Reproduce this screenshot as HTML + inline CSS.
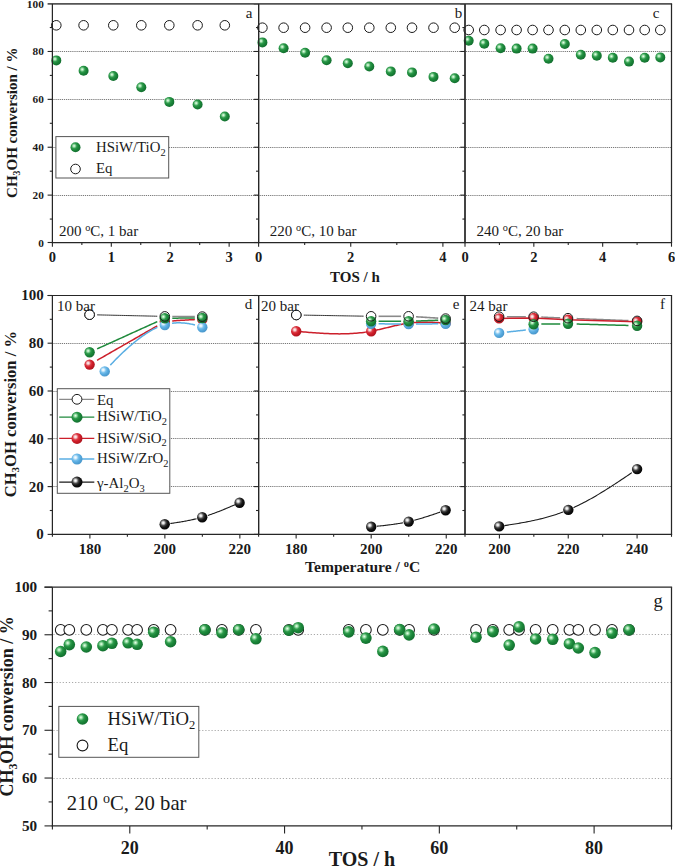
<!DOCTYPE html>
<html><head><meta charset="utf-8"><style>
html,body{margin:0;padding:0;background:#fff;}
svg{display:block;}
text{font-family:"Liberation Serif", serif;fill:#1a1a1a;}
</style></head><body>
<svg width="675" height="866" viewBox="0 0 675 866">
<defs>
<radialGradient id="gG" cx="0.36" cy="0.36" r="0.64">
<stop offset="0" stop-color="#f0fdf1"/><stop offset="0.16" stop-color="#a8e6b3"/><stop offset="0.42" stop-color="#2f9b4d"/>
<stop offset="0.66" stop-color="#1b8739"/><stop offset="1" stop-color="#147131"/></radialGradient>
<radialGradient id="gR" cx="0.36" cy="0.36" r="0.64">
<stop offset="0" stop-color="#fff4f4"/><stop offset="0.16" stop-color="#f6d0d2"/><stop offset="0.42" stop-color="#dc3a44"/>
<stop offset="0.66" stop-color="#cf1c28"/><stop offset="1" stop-color="#b01620"/></radialGradient>
<radialGradient id="gB" cx="0.36" cy="0.36" r="0.64">
<stop offset="0" stop-color="#f8fcff"/><stop offset="0.16" stop-color="#dff1fc"/><stop offset="0.42" stop-color="#78c0ec"/>
<stop offset="0.66" stop-color="#58abe0"/><stop offset="1" stop-color="#4a98cc"/></radialGradient>
<radialGradient id="gK" cx="0.36" cy="0.36" r="0.64">
<stop offset="0" stop-color="#ffffff"/><stop offset="0.16" stop-color="#e0e0e0"/><stop offset="0.42" stop-color="#4a4a4a"/>
<stop offset="0.66" stop-color="#161616"/><stop offset="1" stop-color="#050505"/></radialGradient>
</defs>
<rect width="675" height="866" fill="#fff"/>
<line x1="53.4" y1="195.5" x2="258.6" y2="195.5" stroke="#787878" stroke-width="1" stroke-dasharray="1.2 0.9"/>
<line x1="53.4" y1="147.5" x2="258.6" y2="147.5" stroke="#787878" stroke-width="1" stroke-dasharray="1.2 0.9"/>
<line x1="53.4" y1="99.5" x2="258.6" y2="99.5" stroke="#787878" stroke-width="1" stroke-dasharray="1.2 0.9"/>
<line x1="53.4" y1="51.5" x2="258.6" y2="51.5" stroke="#787878" stroke-width="1" stroke-dasharray="1.2 0.9"/>
<line x1="259.6" y1="195.5" x2="465" y2="195.5" stroke="#787878" stroke-width="1" stroke-dasharray="1.2 0.9"/>
<line x1="259.6" y1="147.5" x2="465" y2="147.5" stroke="#787878" stroke-width="1" stroke-dasharray="1.2 0.9"/>
<line x1="259.6" y1="99.5" x2="465" y2="99.5" stroke="#787878" stroke-width="1" stroke-dasharray="1.2 0.9"/>
<line x1="259.6" y1="51.5" x2="465" y2="51.5" stroke="#787878" stroke-width="1" stroke-dasharray="1.2 0.9"/>
<line x1="466" y1="195.5" x2="671.5" y2="195.5" stroke="#787878" stroke-width="1" stroke-dasharray="1.2 0.9"/>
<line x1="466" y1="147.5" x2="671.5" y2="147.5" stroke="#787878" stroke-width="1" stroke-dasharray="1.2 0.9"/>
<line x1="466" y1="99.5" x2="671.5" y2="99.5" stroke="#787878" stroke-width="1" stroke-dasharray="1.2 0.9"/>
<line x1="466" y1="51.5" x2="671.5" y2="51.5" stroke="#787878" stroke-width="1" stroke-dasharray="1.2 0.9"/>
<line x1="53.4" y1="486.5" x2="258.6" y2="486.5" stroke="#787878" stroke-width="1" stroke-dasharray="1.2 0.9"/>
<line x1="53.4" y1="438.5" x2="258.6" y2="438.5" stroke="#787878" stroke-width="1" stroke-dasharray="1.2 0.9"/>
<line x1="53.4" y1="391.5" x2="258.6" y2="391.5" stroke="#787878" stroke-width="1" stroke-dasharray="1.2 0.9"/>
<line x1="53.4" y1="343.5" x2="258.6" y2="343.5" stroke="#787878" stroke-width="1" stroke-dasharray="1.2 0.9"/>
<line x1="259.6" y1="486.5" x2="465" y2="486.5" stroke="#787878" stroke-width="1" stroke-dasharray="1.2 0.9"/>
<line x1="259.6" y1="438.5" x2="465" y2="438.5" stroke="#787878" stroke-width="1" stroke-dasharray="1.2 0.9"/>
<line x1="259.6" y1="391.5" x2="465" y2="391.5" stroke="#787878" stroke-width="1" stroke-dasharray="1.2 0.9"/>
<line x1="259.6" y1="343.5" x2="465" y2="343.5" stroke="#787878" stroke-width="1" stroke-dasharray="1.2 0.9"/>
<line x1="466" y1="486.5" x2="671.5" y2="486.5" stroke="#787878" stroke-width="1" stroke-dasharray="1.2 0.9"/>
<line x1="466" y1="438.5" x2="671.5" y2="438.5" stroke="#787878" stroke-width="1" stroke-dasharray="1.2 0.9"/>
<line x1="466" y1="391.5" x2="671.5" y2="391.5" stroke="#787878" stroke-width="1" stroke-dasharray="1.2 0.9"/>
<line x1="466" y1="343.5" x2="671.5" y2="343.5" stroke="#787878" stroke-width="1" stroke-dasharray="1.2 0.9"/>
<line x1="53.4" y1="778.5" x2="671.5" y2="778.5" stroke="#a8a8a8" stroke-width="1" stroke-dasharray="1.2 1.9"/>
<line x1="53.4" y1="730.5" x2="671.5" y2="730.5" stroke="#a8a8a8" stroke-width="1" stroke-dasharray="1.2 1.9"/>
<line x1="53.4" y1="682.5" x2="671.5" y2="682.5" stroke="#a8a8a8" stroke-width="1" stroke-dasharray="1.2 1.9"/>
<line x1="53.4" y1="634.5" x2="671.5" y2="634.5" stroke="#a8a8a8" stroke-width="1" stroke-dasharray="1.2 1.9"/>
<circle cx="56.3" cy="25.3" r="4.8" fill="none" stroke="#1a1a1a" stroke-width="1.0"/>
<circle cx="83.6" cy="25.3" r="4.8" fill="none" stroke="#1a1a1a" stroke-width="1.0"/>
<circle cx="113.3" cy="25.3" r="4.8" fill="none" stroke="#1a1a1a" stroke-width="1.0"/>
<circle cx="141.3" cy="25.3" r="4.8" fill="none" stroke="#1a1a1a" stroke-width="1.0"/>
<circle cx="169.3" cy="25.3" r="4.8" fill="none" stroke="#1a1a1a" stroke-width="1.0"/>
<circle cx="197.6" cy="25.3" r="4.8" fill="none" stroke="#1a1a1a" stroke-width="1.0"/>
<circle cx="224.8" cy="25.3" r="4.8" fill="none" stroke="#1a1a1a" stroke-width="1.0"/>
<circle cx="56.3" cy="60.4" r="5.0" fill="url(#gG)"/>
<circle cx="83.6" cy="70.8" r="5.0" fill="url(#gG)"/>
<circle cx="113.3" cy="76" r="5.0" fill="url(#gG)"/>
<circle cx="141.3" cy="87.2" r="5.0" fill="url(#gG)"/>
<circle cx="169.3" cy="101.9" r="5.0" fill="url(#gG)"/>
<circle cx="197.6" cy="104.5" r="5.0" fill="url(#gG)"/>
<circle cx="224.8" cy="116.5" r="5.0" fill="url(#gG)"/>
<circle cx="262.4" cy="27.7" r="4.8" fill="none" stroke="#1a1a1a" stroke-width="1.0"/>
<circle cx="283.6" cy="27.7" r="4.8" fill="none" stroke="#1a1a1a" stroke-width="1.0"/>
<circle cx="305.1" cy="27.7" r="4.8" fill="none" stroke="#1a1a1a" stroke-width="1.0"/>
<circle cx="326.6" cy="27.7" r="4.8" fill="none" stroke="#1a1a1a" stroke-width="1.0"/>
<circle cx="347.8" cy="27.7" r="4.8" fill="none" stroke="#1a1a1a" stroke-width="1.0"/>
<circle cx="369.3" cy="27.7" r="4.8" fill="none" stroke="#1a1a1a" stroke-width="1.0"/>
<circle cx="390.8" cy="27.7" r="4.8" fill="none" stroke="#1a1a1a" stroke-width="1.0"/>
<circle cx="412" cy="27.7" r="4.8" fill="none" stroke="#1a1a1a" stroke-width="1.0"/>
<circle cx="433.5" cy="27.7" r="4.8" fill="none" stroke="#1a1a1a" stroke-width="1.0"/>
<circle cx="454.7" cy="27.7" r="4.8" fill="none" stroke="#1a1a1a" stroke-width="1.0"/>
<circle cx="262.4" cy="42.4" r="5.0" fill="url(#gG)"/>
<circle cx="283.6" cy="48.2" r="5.0" fill="url(#gG)"/>
<circle cx="305.1" cy="52.8" r="5.0" fill="url(#gG)"/>
<circle cx="326.6" cy="60.3" r="5.0" fill="url(#gG)"/>
<circle cx="347.8" cy="63.2" r="5.0" fill="url(#gG)"/>
<circle cx="369.3" cy="66.5" r="5.0" fill="url(#gG)"/>
<circle cx="390.8" cy="71.4" r="5.0" fill="url(#gG)"/>
<circle cx="412" cy="72.4" r="5.0" fill="url(#gG)"/>
<circle cx="433.5" cy="76.9" r="5.0" fill="url(#gG)"/>
<circle cx="454.7" cy="78.2" r="5.0" fill="url(#gG)"/>
<circle cx="468.7" cy="30" r="4.8" fill="none" stroke="#1a1a1a" stroke-width="1.0"/>
<circle cx="484.3" cy="30" r="4.8" fill="none" stroke="#1a1a1a" stroke-width="1.0"/>
<circle cx="500.6" cy="30" r="4.8" fill="none" stroke="#1a1a1a" stroke-width="1.0"/>
<circle cx="516.6" cy="30" r="4.8" fill="none" stroke="#1a1a1a" stroke-width="1.0"/>
<circle cx="532.6" cy="30" r="4.8" fill="none" stroke="#1a1a1a" stroke-width="1.0"/>
<circle cx="548.5" cy="30" r="4.8" fill="none" stroke="#1a1a1a" stroke-width="1.0"/>
<circle cx="564.8" cy="30" r="4.8" fill="none" stroke="#1a1a1a" stroke-width="1.0"/>
<circle cx="580.8" cy="30" r="4.8" fill="none" stroke="#1a1a1a" stroke-width="1.0"/>
<circle cx="596.8" cy="30" r="4.8" fill="none" stroke="#1a1a1a" stroke-width="1.0"/>
<circle cx="612.8" cy="30" r="4.8" fill="none" stroke="#1a1a1a" stroke-width="1.0"/>
<circle cx="629" cy="30" r="4.8" fill="none" stroke="#1a1a1a" stroke-width="1.0"/>
<circle cx="644.7" cy="30" r="4.8" fill="none" stroke="#1a1a1a" stroke-width="1.0"/>
<circle cx="660.3" cy="30" r="4.8" fill="none" stroke="#1a1a1a" stroke-width="1.0"/>
<circle cx="468.7" cy="40.7" r="5.0" fill="url(#gG)"/>
<circle cx="484.3" cy="43.7" r="5.0" fill="url(#gG)"/>
<circle cx="500.6" cy="48.2" r="5.0" fill="url(#gG)"/>
<circle cx="516.6" cy="48.6" r="5.0" fill="url(#gG)"/>
<circle cx="532.6" cy="48.6" r="5.0" fill="url(#gG)"/>
<circle cx="548.5" cy="58.7" r="5.0" fill="url(#gG)"/>
<circle cx="564.8" cy="44" r="5.0" fill="url(#gG)"/>
<circle cx="580.8" cy="54.8" r="5.0" fill="url(#gG)"/>
<circle cx="596.8" cy="55.7" r="5.0" fill="url(#gG)"/>
<circle cx="612.8" cy="57.7" r="5.0" fill="url(#gG)"/>
<circle cx="629" cy="61.6" r="5.0" fill="url(#gG)"/>
<circle cx="644.7" cy="57.7" r="5.0" fill="url(#gG)"/>
<circle cx="660.3" cy="57.4" r="5.0" fill="url(#gG)"/>
<rect x="55.9" y="136.6" width="112.8" height="41.4" fill="#fff" stroke="#555" stroke-width="1"/>
<circle cx="75.5" cy="147.3" r="5.0" fill="url(#gG)"/>
<circle cx="75.5" cy="169" r="4.8" fill="none" stroke="#1a1a1a" stroke-width="1.0"/>
<text x="96" y="152" font-size="14.8" text-anchor="start" >HSiW/TiO<tspan font-size="10.4" dy="3.8">2</tspan></text>
<text x="96" y="172.6" font-size="14.8" text-anchor="start" >Eq</text>
<text x="59" y="235.6" font-size="15">200 <tspan font-size="10.2" dy="-5.1">o</tspan><tspan dy="5.1">C, 1 bar</tspan></text>
<text x="269.8" y="235.8" font-size="15">220 <tspan font-size="10.2" dy="-5.1">o</tspan><tspan dy="5.1">C, 10 bar</tspan></text>
<text x="476.6" y="235.8" font-size="15">240 <tspan font-size="10.2" dy="-5.1">o</tspan><tspan dy="5.1">C, 20 bar</tspan></text>
<text x="249" y="18" font-size="15" text-anchor="middle" >a</text>
<text x="458.6" y="18" font-size="15" text-anchor="middle" >b</text>
<text x="656" y="18" font-size="15" text-anchor="middle" >c</text>
<path d="M170.32,523.51 L171.26,523.37 L172.2,523.24 L173.14,523.1 L174.07,522.96 L175.01,522.82 L175.95,522.68 L176.89,522.53 L177.82,522.39 L178.76,522.24 L179.7,522.09 L180.64,521.93 L181.57,521.77 L182.51,521.61 L183.45,521.45 L184.39,521.28 L185.32,521.11 L186.26,520.93 L187.2,520.76 L188.14,520.57 L189.07,520.38 L190.01,520.19 L190.95,519.99 L191.89,519.79 L192.82,519.59 L193.76,519.37 L194.7,519.16 L195.64,518.93 L196.57,518.7" fill="none" stroke="#1a1a1a" stroke-width="1.1" stroke-linejoin="round" stroke-linecap="butt"/>
<path d="M207.81,515.46 L208.75,515.15 L209.68,514.83 L210.61,514.51 L211.55,514.18 L212.48,513.85 L213.42,513.51 L214.35,513.17 L215.29,512.82 L216.22,512.47 L217.16,512.11 L218.09,511.75 L219.03,511.39 L219.97,511.02 L220.9,510.64 L221.83,510.27 L222.77,509.89 L223.7,509.51 L224.64,509.12 L225.57,508.73 L226.51,508.34 L227.44,507.95 L228.38,507.56 L229.31,507.16 L230.25,506.76 L231.19,506.36 L232.12,505.96 L233.06,505.55 L233.99,505.15 L234.93,504.74" fill="none" stroke="#1a1a1a" stroke-width="1.1" stroke-linejoin="round" stroke-linecap="butt"/>
<path d="M97.12,360.29 L99,359.21 L100.88,358.13 L102.76,357.06 L104.64,355.98 L106.52,354.9 L108.4,353.83 L110.28,352.75 L112.16,351.67 L114.04,350.59 L115.92,349.51 L117.8,348.44 L119.68,347.36 L121.56,346.28 L123.44,345.21 L125.32,344.13 L127.2,343.05 L129.08,341.97 L130.96,340.89 L132.84,339.82 L134.72,338.74 L136.6,337.66 L138.48,336.59 L140.36,335.51 L142.24,334.43 L144.12,333.35 L146,332.27 L147.88,331.2 L149.76,330.12 L151.64,329.04 L153.52,327.97 L155.4,326.89 L157.28,325.81" fill="none" stroke="#cc1f2b" stroke-width="1.5" stroke-linejoin="round" stroke-linecap="butt"/>
<path d="M172.2,320.96 L173.14,320.89 L174.08,320.82 L175.02,320.75 L175.96,320.69 L176.9,320.62 L177.84,320.56 L178.78,320.49 L179.73,320.43 L180.67,320.37 L181.62,320.31 L182.57,320.25 L183.51,320.19 L184.46,320.13 L185.41,320.07 L186.35,320.02 L187.3,319.97 L188.25,319.92 L189.19,319.87 L190.14,319.82 L191.08,319.77 L192.02,319.73 L192.97,319.69 L193.91,319.65 L194.85,319.61" fill="none" stroke="#cc1f2b" stroke-width="1.5" stroke-linejoin="round" stroke-linecap="butt"/>
<path d="M110.33,365.13 L111.6,363.78 L112.9,362.4 L114.25,361 L115.64,359.58 L117.06,358.15 L118.51,356.7 L119.99,355.25 L121.51,353.79 L123.04,352.33 L124.6,350.87 L126.19,349.42 L127.79,347.98 L129.41,346.55 L131.04,345.13 L132.69,343.74 L134.34,342.36 L136.01,341.02 L137.68,339.7 L139.35,338.41 L141.03,337.16 L142.7,335.95 L144.38,334.78 L146.04,333.66 L147.7,332.58 L149.35,331.56 L150.98,330.6 L152.61,329.69 L154.21,328.85 L155.8,328.07 L157.37,327.37" fill="none" stroke="#5aaee3" stroke-width="1.5" stroke-linejoin="round" stroke-linecap="butt"/>
<path d="M172.06,323.29 L173,323.17 L173.94,323.07 L174.88,322.98 L175.83,322.92 L176.78,322.87 L177.74,322.84 L178.7,322.83 L179.66,322.84 L180.62,322.86 L181.58,322.9 L182.55,322.95 L183.51,323.02 L184.48,323.11 L185.44,323.21 L186.41,323.33 L187.37,323.46 L188.33,323.6 L189.29,323.76 L190.25,323.93 L191.21,324.12 L192.16,324.31 L193.11,324.52 L194.05,324.74 L194.99,324.97" fill="none" stroke="#5aaee3" stroke-width="1.5" stroke-linejoin="round" stroke-linecap="butt"/>
<path d="M97.12,348.89 L99,348.04 L100.88,347.19 L102.76,346.33 L104.64,345.48 L106.52,344.63 L108.4,343.77 L110.28,342.92 L112.16,342.07 L114.04,341.22 L115.92,340.37 L117.8,339.51 L119.68,338.66 L121.56,337.81 L123.44,336.95 L125.32,336.1 L127.2,335.25 L129.08,334.4 L130.96,333.55 L132.84,332.69 L134.72,331.84 L136.6,330.99 L138.48,330.13 L140.36,329.28 L142.24,328.43 L144.12,327.58 L146,326.73 L147.88,325.87 L149.76,325.02 L151.64,324.17 L153.52,323.31 L155.4,322.46 L157.28,321.61" fill="none" stroke="#1f8a3c" stroke-width="1.5" stroke-linejoin="round" stroke-linecap="butt"/>
<path d="M172.3,318.16 L173.24,318.15 L174.18,318.15 L175.11,318.14 L176.05,318.14 L176.99,318.13 L177.93,318.13 L178.86,318.12 L179.8,318.12 L180.74,318.12 L181.68,318.11 L182.61,318.11 L183.55,318.1 L184.49,318.09 L185.43,318.09 L186.36,318.08 L187.3,318.08 L188.24,318.07 L189.18,318.07 L190.11,318.06 L191.05,318.06 L191.99,318.06 L192.93,318.05 L193.86,318.05 L194.8,318.04" fill="none" stroke="#1f8a3c" stroke-width="1.5" stroke-linejoin="round" stroke-linecap="butt"/>
<path d="M97.12,314.87 L99,314.91 L100.88,314.95 L102.76,315 L104.64,315.04 L106.52,315.08 L108.4,315.12 L110.28,315.17 L112.16,315.21 L114.04,315.25 L115.92,315.29 L117.8,315.34 L119.68,315.38 L121.56,315.42 L123.44,315.46 L125.32,315.51 L127.2,315.55 L129.08,315.59 L130.96,315.63 L132.84,315.68 L134.72,315.72 L136.6,315.76 L138.48,315.81 L140.36,315.85 L142.24,315.89 L144.12,315.93 L146,315.97 L147.88,316.02 L149.76,316.06 L151.64,316.1 L153.52,316.14 L155.4,316.19 L157.28,316.23" fill="none" stroke="#333333" stroke-width="1.0" stroke-linejoin="round" stroke-linecap="butt"/>
<path d="M172.3,316.44 L173.24,316.44 L174.18,316.45 L175.11,316.45 L176.05,316.46 L176.99,316.46 L177.93,316.47 L178.86,316.48 L179.8,316.48 L180.74,316.49 L181.68,316.49 L182.61,316.5 L183.55,316.5 L184.49,316.5 L185.43,316.51 L186.36,316.51 L187.3,316.52 L188.24,316.52 L189.18,316.53 L190.11,316.54 L191.05,316.54 L191.99,316.55 L192.93,316.55 L193.86,316.56 L194.8,316.56" fill="none" stroke="#8a8a8a" stroke-width="1.6" stroke-linejoin="round" stroke-linecap="butt"/>
<path d="M376.82,526.26 L377.76,526.16 L378.7,526.07 L379.64,525.97 L380.57,525.88 L381.51,525.78 L382.45,525.68 L383.39,525.58 L384.32,525.47 L385.26,525.37 L386.2,525.26 L387.14,525.15 L388.07,525.04 L389.01,524.92 L389.95,524.8 L390.89,524.68 L391.82,524.56 L392.76,524.43 L393.7,524.3 L394.64,524.16 L395.57,524.02 L396.51,523.88 L397.45,523.73 L398.39,523.58 L399.32,523.43 L400.26,523.27 L401.2,523.1 L402.14,522.93 L403.07,522.76" fill="none" stroke="#1a1a1a" stroke-width="1.1" stroke-linejoin="round" stroke-linecap="butt"/>
<path d="M414.24,520.26 L415.16,520.02 L416.08,519.77 L417,519.52 L417.93,519.26 L418.85,519 L419.77,518.74 L420.69,518.47 L421.62,518.19 L422.54,517.92 L423.46,517.64 L424.38,517.35 L425.31,517.07 L426.23,516.78 L427.15,516.48 L428.07,516.19 L429,515.89 L429.92,515.59 L430.84,515.28 L431.76,514.98 L432.69,514.67 L433.61,514.36 L434.53,514.05 L435.45,513.73 L436.38,513.42 L437.3,513.1 L438.22,512.78 L439.14,512.46 L440.06,512.14" fill="none" stroke="#1a1a1a" stroke-width="1.1" stroke-linejoin="round" stroke-linecap="butt"/>
<path d="M296.2,331.2 L298.07,331.37 L299.95,331.55 L301.82,331.72 L303.7,331.89 L305.57,332.06 L307.45,332.22 L309.32,332.38 L311.2,332.54 L313.07,332.69 L314.95,332.83 L316.82,332.97 L318.7,333.1 L320.57,333.22 L322.45,333.34 L324.32,333.44 L326.2,333.54 L328.07,333.62 L329.95,333.7 L331.82,333.76 L333.7,333.81 L335.57,333.84 L337.45,333.87 L339.32,333.88 L341.2,333.87 L343.07,333.85 L344.95,333.81 L346.82,333.76 L348.7,333.68 L350.57,333.59 L352.45,333.48 L354.32,333.35 L356.2,333.2 L358.07,333.03 L359.95,332.84 L361.82,332.63 L363.7,332.39 L365.57,332.13 L367.45,331.84 L369.32,331.53 L371.2,331.2" fill="none" stroke="#cc1f2b" stroke-width="1.5" stroke-linejoin="round" stroke-linecap="butt"/>
<path d="M371.2,331.2 L372.13,331.02 L373.07,330.84 L374,330.65 L374.94,330.46 L375.88,330.26 L376.81,330.06 L377.75,329.85 L378.68,329.64 L379.62,329.42 L380.55,329.21 L381.49,328.99 L382.42,328.76 L383.36,328.54 L384.29,328.31 L385.23,328.09 L386.16,327.86 L387.1,327.63 L388.03,327.4 L388.97,327.18 L389.9,326.95 L390.84,326.73 L391.77,326.5 L392.7,326.28 L393.64,326.06 L394.57,325.85 L395.51,325.63 L396.44,325.42 L397.38,325.22 L398.31,325.02 L399.25,324.82 L400.19,324.63 L401.12,324.44 L402.06,324.26 L402.99,324.09 L403.93,323.92 L404.86,323.76 L405.8,323.61 L406.73,323.46 L407.67,323.33 L408.6,323.2" fill="none" stroke="#cc1f2b" stroke-width="1.5" stroke-linejoin="round" stroke-linecap="butt"/>
<path d="M408.6,323.2 L409.53,323.08 L410.45,322.97 L411.38,322.87 L412.3,322.78 L413.23,322.69 L414.15,322.62 L415.08,322.55 L416,322.49 L416.93,322.43 L417.85,322.38 L418.78,322.34 L419.7,322.3 L420.62,322.27 L421.55,322.25 L422.48,322.23 L423.4,322.22 L424.33,322.21 L425.25,322.21 L426.18,322.21 L427.1,322.22 L428.03,322.23 L428.95,322.25 L429.88,322.27 L430.8,322.29 L431.73,322.32 L432.65,322.35 L433.58,322.38 L434.5,322.42 L435.43,322.46 L436.35,322.5 L437.28,322.54 L438.2,322.59 L439.12,322.64 L440.05,322.69 L440.98,322.74 L441.9,322.79 L442.83,322.84 L443.75,322.89 L444.68,322.95 L445.6,323" fill="none" stroke="#cc1f2b" stroke-width="1.5" stroke-linejoin="round" stroke-linecap="butt"/>
<path d="M378.6,323.84 L379.54,323.85 L380.48,323.85 L381.41,323.86 L382.35,323.86 L383.29,323.87 L384.23,323.87 L385.16,323.88 L386.1,323.88 L387.04,323.88 L387.98,323.89 L388.91,323.89 L389.85,323.9 L390.79,323.91 L391.73,323.91 L392.66,323.92 L393.6,323.92 L394.54,323.93 L395.48,323.93 L396.41,323.94 L397.35,323.94 L398.29,323.94 L399.23,323.95 L400.16,323.95 L401.1,323.96" fill="none" stroke="#5aaee3" stroke-width="1.5" stroke-linejoin="round" stroke-linecap="butt"/>
<path d="M416,323.96 L416.93,323.95 L417.85,323.95 L418.78,323.94 L419.7,323.94 L420.62,323.94 L421.55,323.93 L422.48,323.93 L423.4,323.92 L424.33,323.92 L425.25,323.91 L426.18,323.91 L427.1,323.9 L428.03,323.89 L428.95,323.89 L429.88,323.88 L430.8,323.88 L431.73,323.88 L432.65,323.87 L433.58,323.87 L434.5,323.86 L435.43,323.86 L436.35,323.85 L437.28,323.85 L438.2,323.84" fill="none" stroke="#5aaee3" stroke-width="1.5" stroke-linejoin="round" stroke-linecap="butt"/>
<path d="M378.6,321.22 L379.54,321.22 L380.48,321.23 L381.41,321.23 L382.35,321.23 L383.29,321.23 L384.23,321.24 L385.16,321.24 L386.1,321.24 L387.04,321.24 L387.98,321.25 L388.91,321.25 L389.85,321.25 L390.79,321.25 L391.73,321.25 L392.66,321.26 L393.6,321.26 L394.54,321.26 L395.48,321.26 L396.41,321.27 L397.35,321.27 L398.29,321.27 L399.23,321.27 L400.16,321.28 L401.1,321.28" fill="none" stroke="#1f8a3c" stroke-width="1.5" stroke-linejoin="round" stroke-linecap="butt"/>
<path d="M416,321.04 L416.93,321.01 L417.85,320.98 L418.78,320.94 L419.7,320.91 L420.62,320.88 L421.55,320.85 L422.48,320.81 L423.4,320.78 L424.33,320.75 L425.25,320.72 L426.18,320.68 L427.1,320.65 L428.03,320.62 L428.95,320.58 L429.88,320.55 L430.8,320.52 L431.73,320.49 L432.65,320.45 L433.58,320.42 L434.5,320.39 L435.43,320.36 L436.35,320.32 L437.28,320.29 L438.2,320.26" fill="none" stroke="#1f8a3c" stroke-width="1.5" stroke-linejoin="round" stroke-linecap="butt"/>
<path d="M303.78,315.13 L305.65,315.16 L307.52,315.19 L309.39,315.23 L311.26,315.26 L313.13,315.29 L315,315.32 L316.87,315.36 L318.74,315.39 L320.61,315.42 L322.48,315.45 L324.35,315.49 L326.22,315.52 L328.09,315.55 L329.96,315.58 L331.83,315.62 L333.7,315.65 L335.57,315.68 L337.44,315.72 L339.31,315.75 L341.18,315.78 L343.05,315.81 L344.92,315.85 L346.79,315.88 L348.66,315.91 L350.53,315.94 L352.4,315.98 L354.27,316.01 L356.14,316.04 L358.01,316.07 L359.88,316.11 L361.75,316.14 L363.62,316.17" fill="none" stroke="#333333" stroke-width="1.0" stroke-linejoin="round" stroke-linecap="butt"/>
<path d="M378.6,316.3 L379.54,316.3 L380.48,316.3 L381.41,316.3 L382.35,316.3 L383.29,316.3 L384.23,316.3 L385.16,316.3 L386.1,316.3 L387.04,316.3 L387.98,316.3 L388.91,316.3 L389.85,316.3 L390.79,316.3 L391.73,316.3 L392.66,316.3 L393.6,316.3 L394.54,316.3 L395.48,316.3 L396.41,316.3 L397.35,316.3 L398.29,316.3 L399.23,316.3 L400.16,316.3 L401.1,316.3" fill="none" stroke="#8a8a8a" stroke-width="1.6" stroke-linejoin="round" stroke-linecap="butt"/>
<path d="M416,316.76 L416.93,316.82 L417.85,316.88 L418.78,316.93 L419.7,316.99 L420.62,317.05 L421.55,317.11 L422.48,317.16 L423.4,317.22 L424.33,317.28 L425.25,317.34 L426.18,317.39 L427.1,317.45 L428.03,317.51 L428.95,317.56 L429.88,317.62 L430.8,317.68 L431.73,317.74 L432.65,317.8 L433.58,317.85 L434.5,317.91 L435.43,317.97 L436.35,318.03 L437.28,318.08 L438.2,318.14" fill="none" stroke="#8a8a8a" stroke-width="1.6" stroke-linejoin="round" stroke-linecap="butt"/>
<path d="M504.38,525.62 L506.11,525.36 L507.84,525.09 L509.56,524.82 L511.29,524.55 L513.02,524.28 L514.75,524 L516.48,523.71 L518.2,523.42 L519.93,523.12 L521.66,522.82 L523.38,522.51 L525.11,522.19 L526.84,521.86 L528.57,521.52 L530.29,521.18 L532.02,520.82 L533.75,520.45 L535.48,520.07 L537.2,519.68 L538.93,519.27 L540.66,518.85 L542.39,518.42 L544.12,517.98 L545.84,517.52 L547.57,517.04 L549.3,516.55 L551.02,516.04 L552.75,515.51 L554.48,514.97 L556.21,514.4 L557.93,513.82 L559.66,513.22 L561.39,512.6 L563.12,511.96" fill="none" stroke="#1a1a1a" stroke-width="1.1" stroke-linejoin="round" stroke-linecap="butt"/>
<path d="M573.46,507.65 L575.18,506.86 L576.9,506.05 L578.62,505.21 L580.34,504.36 L582.06,503.49 L583.78,502.6 L585.5,501.69 L587.22,500.77 L588.94,499.83 L590.66,498.87 L592.38,497.9 L594.1,496.92 L595.82,495.91 L597.54,494.9 L599.26,493.87 L600.98,492.83 L602.7,491.78 L604.42,490.72 L606.14,489.64 L607.86,488.56 L609.58,487.46 L611.3,486.36 L613.02,485.25 L614.74,484.13 L616.46,483 L618.18,481.87 L619.9,480.72 L621.62,479.58 L623.34,478.43 L625.06,477.27 L626.78,476.11 L628.5,474.95 L630.22,473.78 L631.94,472.61" fill="none" stroke="#1a1a1a" stroke-width="1.1" stroke-linejoin="round" stroke-linecap="butt"/>
<path d="M506.86,332.07 L507.73,331.97 L508.59,331.88 L509.45,331.79 L510.31,331.7 L511.18,331.6 L512.04,331.51 L512.9,331.42 L513.76,331.33 L514.62,331.23 L515.49,331.14 L516.35,331.05 L517.21,330.96 L518.08,330.87 L518.94,330.77 L519.8,330.68 L520.66,330.59 L521.52,330.5 L522.39,330.4 L523.25,330.31 L524.11,330.22 L524.98,330.12 L525.84,330.03" fill="none" stroke="#5aaee3" stroke-width="1.5" stroke-linejoin="round" stroke-linecap="butt"/>
<path d="M541.34,324.11 L542.2,324.1 L543.06,324.09 L543.92,324.08 L544.78,324.07 L545.64,324.06 L546.5,324.05 L547.36,324.04 L548.22,324.03 L549.08,324.02 L549.94,324.01 L550.8,324 L551.66,323.99 L552.52,323.98 L553.38,323.97 L554.24,323.96 L555.1,323.95 L555.96,323.94 L556.82,323.93 L557.68,323.92 L558.54,323.91 L559.4,323.9 L560.26,323.89" fill="none" stroke="#1f8a3c" stroke-width="1.5" stroke-linejoin="round" stroke-linecap="butt"/>
<path d="M576.64,324.04 L578.37,324.09 L580.09,324.13 L581.82,324.18 L583.55,324.23 L585.27,324.27 L587,324.32 L588.73,324.37 L590.46,324.42 L592.19,324.47 L593.91,324.51 L595.64,324.56 L597.37,324.61 L599.1,324.65 L600.82,324.7 L602.55,324.75 L604.28,324.8 L606,324.85 L607.73,324.89 L609.46,324.94 L611.19,324.99 L612.91,325.03 L614.64,325.08 L616.37,325.13 L618.1,325.18 L619.83,325.23 L621.55,325.27 L623.28,325.32 L625.01,325.37 L626.74,325.41 L628.46,325.46" fill="none" stroke="#1f8a3c" stroke-width="1.5" stroke-linejoin="round" stroke-linecap="butt"/>
<path d="M506.86,316.7 L507.73,316.7 L508.59,316.7 L509.45,316.7 L510.31,316.7 L511.18,316.7 L512.04,316.7 L512.9,316.7 L513.76,316.7 L514.62,316.7 L515.49,316.7 L516.35,316.7 L517.21,316.7 L518.08,316.7 L518.94,316.7 L519.8,316.7 L520.66,316.7 L521.52,316.7 L522.39,316.7 L523.25,316.7 L524.11,316.7 L524.98,316.7 L525.84,316.7" fill="none" stroke="#8a8a8a" stroke-width="1.4" stroke-linejoin="round" stroke-linecap="butt"/>
<path d="M541.34,317.04 L542.2,317.07 L543.06,317.11 L543.92,317.15 L544.78,317.19 L545.64,317.22 L546.5,317.26 L547.36,317.3 L548.22,317.34 L549.08,317.38 L549.94,317.41 L550.8,317.45 L551.66,317.49 L552.52,317.52 L553.38,317.56 L554.24,317.6 L555.1,317.64 L555.96,317.68 L556.82,317.71 L557.68,317.75 L558.54,317.79 L559.4,317.82 L560.26,317.86" fill="none" stroke="#8a8a8a" stroke-width="1.4" stroke-linejoin="round" stroke-linecap="butt"/>
<path d="M576.64,318.54 L578.37,318.6 L580.09,318.67 L581.82,318.74 L583.55,318.81 L585.27,318.88 L587,318.94 L588.73,319.01 L590.46,319.08 L592.19,319.14 L593.91,319.21 L595.64,319.28 L597.37,319.35 L599.1,319.41 L600.82,319.48 L602.55,319.55 L604.28,319.62 L606,319.69 L607.73,319.75 L609.46,319.82 L611.19,319.89 L612.91,319.95 L614.64,320.02 L616.37,320.09 L618.1,320.16 L619.83,320.22 L621.55,320.29 L623.28,320.36 L625.01,320.43 L626.74,320.5 L628.46,320.56" fill="none" stroke="#8a8a8a" stroke-width="1.4" stroke-linejoin="round" stroke-linecap="butt"/>
<path d="M499.1,318.4 L533.6,318 L568,319.8 L637.1,321.8" fill="none" stroke="#cc1f2b" stroke-width="1.5" stroke-linejoin="round" stroke-linecap="butt"/>
<circle cx="164.7" cy="524.3" r="5.2" fill="url(#gK)"/>
<circle cx="202.2" cy="517.2" r="5.2" fill="url(#gK)"/>
<circle cx="239.6" cy="502.7" r="5.2" fill="url(#gK)"/>
<circle cx="89.6" cy="364.6" r="5.2" fill="url(#gR)"/>
<circle cx="164.8" cy="321.5" r="5.2" fill="url(#gR)"/>
<circle cx="202.3" cy="319.4" r="5.2" fill="url(#gR)"/>
<circle cx="104.7" cy="371.4" r="5.2" fill="url(#gB)"/>
<circle cx="164.8" cy="325" r="5.2" fill="url(#gB)"/>
<circle cx="202.3" cy="327.2" r="5.2" fill="url(#gB)"/>
<circle cx="89.6" cy="352.3" r="5.2" fill="url(#gG)"/>
<circle cx="164.8" cy="318.2" r="5.2" fill="url(#gG)"/>
<circle cx="202.3" cy="318" r="5.2" fill="url(#gG)"/>
<circle cx="371.2" cy="526.8" r="5.2" fill="url(#gK)"/>
<circle cx="408.7" cy="521.6" r="5.2" fill="url(#gK)"/>
<circle cx="445.6" cy="510.2" r="5.2" fill="url(#gK)"/>
<circle cx="296.2" cy="331.2" r="5.2" fill="url(#gR)"/>
<circle cx="371.2" cy="331.2" r="5.2" fill="url(#gR)"/>
<circle cx="408.6" cy="323.2" r="5.2" fill="url(#gR)"/>
<circle cx="445.6" cy="323" r="5.2" fill="url(#gR)"/>
<circle cx="371.1" cy="323.8" r="5.2" fill="url(#gB)"/>
<circle cx="408.6" cy="324" r="5.2" fill="url(#gB)"/>
<circle cx="445.6" cy="323.8" r="5.2" fill="url(#gB)"/>
<circle cx="371.1" cy="321.2" r="5.2" fill="url(#gG)"/>
<circle cx="408.6" cy="321.3" r="5.2" fill="url(#gG)"/>
<circle cx="445.6" cy="320" r="5.2" fill="url(#gG)"/>
<circle cx="499.2" cy="526.4" r="5.2" fill="url(#gK)"/>
<circle cx="568.3" cy="509.9" r="5.2" fill="url(#gK)"/>
<circle cx="637.1" cy="469.1" r="5.2" fill="url(#gK)"/>
<circle cx="499.1" cy="318.4" r="5.2" fill="url(#gR)"/>
<circle cx="533.6" cy="318" r="5.2" fill="url(#gR)"/>
<circle cx="568" cy="319.8" r="5.2" fill="url(#gR)"/>
<circle cx="637.1" cy="321.8" r="5.2" fill="url(#gR)"/>
<circle cx="499.1" cy="332.9" r="5.2" fill="url(#gB)"/>
<circle cx="533.6" cy="329.2" r="5.2" fill="url(#gB)"/>
<circle cx="533.6" cy="324.2" r="5.2" fill="url(#gG)"/>
<circle cx="568" cy="323.8" r="5.2" fill="url(#gG)"/>
<circle cx="637.1" cy="325.7" r="5.2" fill="url(#gG)"/>
<circle cx="89.6" cy="314.7" r="4.8" fill="none" stroke="#1a1a1a" stroke-width="1.0"/>
<circle cx="164.8" cy="316.4" r="4.8" fill="none" stroke="#1a1a1a" stroke-width="1.0"/>
<circle cx="202.3" cy="316.6" r="4.8" fill="none" stroke="#1a1a1a" stroke-width="1.0"/>
<circle cx="296.3" cy="315" r="4.8" fill="none" stroke="#1a1a1a" stroke-width="1.0"/>
<circle cx="371.1" cy="316.3" r="4.8" fill="none" stroke="#1a1a1a" stroke-width="1.0"/>
<circle cx="408.6" cy="316.3" r="4.8" fill="none" stroke="#1a1a1a" stroke-width="1.0"/>
<circle cx="445.6" cy="318.6" r="4.8" fill="none" stroke="#1a1a1a" stroke-width="1.0"/>
<circle cx="499.1" cy="316.7" r="4.8" fill="none" stroke="#1a1a1a" stroke-width="1.0"/>
<circle cx="533.6" cy="316.7" r="4.8" fill="none" stroke="#1a1a1a" stroke-width="1.0"/>
<circle cx="568" cy="318.2" r="4.8" fill="none" stroke="#1a1a1a" stroke-width="1.0"/>
<circle cx="637.1" cy="320.9" r="4.8" fill="none" stroke="#1a1a1a" stroke-width="1.0"/>
<circle cx="89.6" cy="314.7" r="4.8" fill="#fff" stroke="#1a1a1a" stroke-width="1.0"/>
<circle cx="296.3" cy="315" r="4.8" fill="#fff" stroke="#1a1a1a" stroke-width="1.0"/>
<rect x="57.3" y="388.7" width="112.5" height="104.6" fill="#fff" stroke="#555" stroke-width="1"/>
<line x1="59.2" y1="399.3" x2="94.3" y2="399.3" stroke="#8a8a8a" stroke-width="1.3" />
<circle cx="77" cy="399.3" r="4.9" fill="#fff" stroke="#1a1a1a" stroke-width="1.0"/>
<line x1="59.2" y1="417.2" x2="94.3" y2="417.2" stroke="#1f8a3c" stroke-width="1.3" />
<circle cx="77" cy="417.2" r="5.5" fill="url(#gG)"/>
<line x1="59.2" y1="438.4" x2="94.3" y2="438.4" stroke="#cc1f2b" stroke-width="1.3" />
<circle cx="77" cy="438.4" r="5.5" fill="url(#gR)"/>
<line x1="59.2" y1="459" x2="94.3" y2="459" stroke="#5aaee3" stroke-width="1.3" />
<circle cx="77" cy="459" r="5.5" fill="url(#gB)"/>
<line x1="59.2" y1="482.1" x2="94.3" y2="482.1" stroke="#1a1a1a" stroke-width="1.3" />
<circle cx="77" cy="482.1" r="5.5" fill="url(#gK)"/>
<text x="97" y="405" font-size="14.9" text-anchor="start" >Eq</text>
<text x="97" y="421.4" font-size="14.9" text-anchor="start" >HSiW/TiO<tspan font-size="10.4" dy="3.8">2</tspan></text>
<text x="97" y="442.6" font-size="14.9" text-anchor="start" >HSiW/SiO<tspan font-size="10.4" dy="3.8">2</tspan></text>
<text x="97" y="463.2" font-size="14.9" text-anchor="start" >HSiW/ZrO<tspan font-size="10.4" dy="3.8">2</tspan></text>
<text x="97" y="487.9" font-size="14.9" text-anchor="start" >&#947;-Al<tspan font-size="10.4" dy="3.8">2</tspan><tspan dy="-3.8">O</tspan><tspan font-size="10.4" dy="3.8">3</tspan></text>
<text x="57" y="310.5" font-size="15" text-anchor="start" >10 bar</text>
<text x="261.1" y="310.5" font-size="15" text-anchor="start" >20 bar</text>
<text x="469.6" y="310.7" font-size="15" text-anchor="start" >24 bar</text>
<text x="248.5" y="309" font-size="15" text-anchor="middle" >d</text>
<text x="456" y="309" font-size="15" text-anchor="middle" >e</text>
<text x="662.6" y="309" font-size="15" text-anchor="middle" >f</text>
<circle cx="60.7" cy="629.9" r="5.35" fill="#fff" stroke="#1a1a1a" stroke-width="1.05"/>
<circle cx="69.3" cy="629.9" r="5.35" fill="#fff" stroke="#1a1a1a" stroke-width="1.05"/>
<circle cx="86.3" cy="629.9" r="5.35" fill="#fff" stroke="#1a1a1a" stroke-width="1.05"/>
<circle cx="102.9" cy="629.9" r="5.35" fill="#fff" stroke="#1a1a1a" stroke-width="1.05"/>
<circle cx="111.9" cy="629.9" r="5.35" fill="#fff" stroke="#1a1a1a" stroke-width="1.05"/>
<circle cx="128.1" cy="629.9" r="5.35" fill="#fff" stroke="#1a1a1a" stroke-width="1.05"/>
<circle cx="137.1" cy="629.9" r="5.35" fill="#fff" stroke="#1a1a1a" stroke-width="1.05"/>
<circle cx="153.7" cy="629.9" r="5.35" fill="#fff" stroke="#1a1a1a" stroke-width="1.05"/>
<circle cx="170.6" cy="629.9" r="5.35" fill="#fff" stroke="#1a1a1a" stroke-width="1.05"/>
<circle cx="204.9" cy="629.9" r="5.35" fill="#fff" stroke="#1a1a1a" stroke-width="1.05"/>
<circle cx="221.9" cy="629.9" r="5.35" fill="#fff" stroke="#1a1a1a" stroke-width="1.05"/>
<circle cx="238.7" cy="629.9" r="5.35" fill="#fff" stroke="#1a1a1a" stroke-width="1.05"/>
<circle cx="255.9" cy="629.9" r="5.35" fill="#fff" stroke="#1a1a1a" stroke-width="1.05"/>
<circle cx="288.9" cy="629.9" r="5.35" fill="#fff" stroke="#1a1a1a" stroke-width="1.05"/>
<circle cx="298.2" cy="629.9" r="5.35" fill="#fff" stroke="#1a1a1a" stroke-width="1.05"/>
<circle cx="348.7" cy="629.9" r="5.35" fill="#fff" stroke="#1a1a1a" stroke-width="1.05"/>
<circle cx="365.9" cy="629.9" r="5.35" fill="#fff" stroke="#1a1a1a" stroke-width="1.05"/>
<circle cx="382.8" cy="629.9" r="5.35" fill="#fff" stroke="#1a1a1a" stroke-width="1.05"/>
<circle cx="399.7" cy="629.9" r="5.35" fill="#fff" stroke="#1a1a1a" stroke-width="1.05"/>
<circle cx="409.1" cy="629.9" r="5.35" fill="#fff" stroke="#1a1a1a" stroke-width="1.05"/>
<circle cx="434" cy="629.9" r="5.35" fill="#fff" stroke="#1a1a1a" stroke-width="1.05"/>
<circle cx="476" cy="629.9" r="5.35" fill="#fff" stroke="#1a1a1a" stroke-width="1.05"/>
<circle cx="492.9" cy="629.9" r="5.35" fill="#fff" stroke="#1a1a1a" stroke-width="1.05"/>
<circle cx="509.2" cy="629.9" r="5.35" fill="#fff" stroke="#1a1a1a" stroke-width="1.05"/>
<circle cx="519" cy="629.9" r="5.35" fill="#fff" stroke="#1a1a1a" stroke-width="1.05"/>
<circle cx="535.6" cy="629.9" r="5.35" fill="#fff" stroke="#1a1a1a" stroke-width="1.05"/>
<circle cx="552.7" cy="629.9" r="5.35" fill="#fff" stroke="#1a1a1a" stroke-width="1.05"/>
<circle cx="569.4" cy="629.9" r="5.35" fill="#fff" stroke="#1a1a1a" stroke-width="1.05"/>
<circle cx="578.3" cy="629.9" r="5.35" fill="#fff" stroke="#1a1a1a" stroke-width="1.05"/>
<circle cx="595" cy="629.9" r="5.35" fill="#fff" stroke="#1a1a1a" stroke-width="1.05"/>
<circle cx="612" cy="629.9" r="5.35" fill="#fff" stroke="#1a1a1a" stroke-width="1.05"/>
<circle cx="629.1" cy="629.9" r="5.35" fill="#fff" stroke="#1a1a1a" stroke-width="1.05"/>
<circle cx="60.7" cy="651.5" r="5.8" fill="url(#gG)"/>
<circle cx="69.3" cy="644.6" r="5.8" fill="url(#gG)"/>
<circle cx="86.3" cy="647" r="5.8" fill="url(#gG)"/>
<circle cx="102.9" cy="645.7" r="5.8" fill="url(#gG)"/>
<circle cx="111.9" cy="643.3" r="5.8" fill="url(#gG)"/>
<circle cx="128.1" cy="642.8" r="5.8" fill="url(#gG)"/>
<circle cx="137.1" cy="644.3" r="5.8" fill="url(#gG)"/>
<circle cx="153.7" cy="632.2" r="5.8" fill="url(#gG)"/>
<circle cx="170.6" cy="641.7" r="5.8" fill="url(#gG)"/>
<circle cx="204.9" cy="629.7" r="5.8" fill="url(#gG)"/>
<circle cx="221.9" cy="632.8" r="5.8" fill="url(#gG)"/>
<circle cx="238.7" cy="629.7" r="5.8" fill="url(#gG)"/>
<circle cx="255.9" cy="638.8" r="5.8" fill="url(#gG)"/>
<circle cx="288.9" cy="630.2" r="5.8" fill="url(#gG)"/>
<circle cx="298.2" cy="627.7" r="5.8" fill="url(#gG)"/>
<circle cx="348.7" cy="631.9" r="5.8" fill="url(#gG)"/>
<circle cx="365.9" cy="638.1" r="5.8" fill="url(#gG)"/>
<circle cx="382.8" cy="651.4" r="5.8" fill="url(#gG)"/>
<circle cx="399.7" cy="629.6" r="5.8" fill="url(#gG)"/>
<circle cx="409.1" cy="634.9" r="5.8" fill="url(#gG)"/>
<circle cx="434" cy="629" r="5.8" fill="url(#gG)"/>
<circle cx="476" cy="637.2" r="5.8" fill="url(#gG)"/>
<circle cx="492.9" cy="631.6" r="5.8" fill="url(#gG)"/>
<circle cx="509.2" cy="645.1" r="5.8" fill="url(#gG)"/>
<circle cx="519" cy="626.9" r="5.8" fill="url(#gG)"/>
<circle cx="535.6" cy="639" r="5.8" fill="url(#gG)"/>
<circle cx="552.7" cy="639.3" r="5.8" fill="url(#gG)"/>
<circle cx="569.4" cy="643.7" r="5.8" fill="url(#gG)"/>
<circle cx="578.3" cy="648" r="5.8" fill="url(#gG)"/>
<circle cx="595" cy="652.6" r="5.8" fill="url(#gG)"/>
<circle cx="612" cy="633.1" r="5.8" fill="url(#gG)"/>
<circle cx="629.1" cy="629.8" r="5.8" fill="url(#gG)"/>
<rect x="58.8" y="706.4" width="140" height="50.9" fill="#fff" stroke="#555" stroke-width="1"/>
<circle cx="82.5" cy="719" r="5.8" fill="url(#gG)"/>
<circle cx="82.5" cy="745.5" r="5.4" fill="#fff" stroke="#1a1a1a" stroke-width="1.1"/>
<text x="107.6" y="724.9" font-size="18.7" text-anchor="start" >HSiW/TiO<tspan font-size="12.5" dy="4">2</tspan></text>
<text x="107.6" y="751.4" font-size="18.7" text-anchor="start" >Eq</text>
<text x="66.8" y="810.3" font-size="20.7">210 <tspan font-size="14.08" dy="-7.04">o</tspan><tspan dy="7.04">C, 20 bar</tspan></text>
<text x="658.2" y="607.4" font-size="18.5" text-anchor="middle" >g</text>
<line x1="47.6" y1="3.9" x2="259.2" y2="3.9" stroke="#555" stroke-width="1.8" />
<line x1="52.4" y1="3.9" x2="52.4" y2="243.1" stroke="#262626" stroke-width="1.25" />
<line x1="258.6" y1="3.9" x2="258.6" y2="243.1" stroke="#262626" stroke-width="1.25" />
<line x1="51.8" y1="242.5" x2="259.2" y2="242.5" stroke="#262626" stroke-width="1.25" />
<line x1="49.8" y1="219.06" x2="52.4" y2="219.06" stroke="#262626" stroke-width="1.1" />
<line x1="47.6" y1="195.12" x2="52.4" y2="195.12" stroke="#262626" stroke-width="1.1" />
<line x1="49.8" y1="171.18" x2="52.4" y2="171.18" stroke="#262626" stroke-width="1.1" />
<line x1="47.6" y1="147.24" x2="52.4" y2="147.24" stroke="#262626" stroke-width="1.1" />
<line x1="49.8" y1="123.3" x2="52.4" y2="123.3" stroke="#262626" stroke-width="1.1" />
<line x1="47.6" y1="99.36" x2="52.4" y2="99.36" stroke="#262626" stroke-width="1.1" />
<line x1="49.8" y1="75.42" x2="52.4" y2="75.42" stroke="#262626" stroke-width="1.1" />
<line x1="47.6" y1="51.48" x2="52.4" y2="51.48" stroke="#262626" stroke-width="1.1" />
<line x1="49.8" y1="27.54" x2="52.4" y2="27.54" stroke="#262626" stroke-width="1.1" />
<line x1="47.6" y1="242.5" x2="52.4" y2="242.5" stroke="#262626" stroke-width="1.1" />
<line x1="52.4" y1="242.5" x2="52.4" y2="246.7" stroke="#262626" stroke-width="1.1" />
<line x1="81.86" y1="242.5" x2="81.86" y2="244.9" stroke="#262626" stroke-width="1.1" />
<line x1="111.31" y1="242.5" x2="111.31" y2="246.7" stroke="#262626" stroke-width="1.1" />
<line x1="140.77" y1="242.5" x2="140.77" y2="244.9" stroke="#262626" stroke-width="1.1" />
<line x1="170.23" y1="242.5" x2="170.23" y2="246.7" stroke="#262626" stroke-width="1.1" />
<line x1="199.69" y1="242.5" x2="199.69" y2="244.9" stroke="#262626" stroke-width="1.1" />
<line x1="229.14" y1="242.5" x2="229.14" y2="246.7" stroke="#262626" stroke-width="1.1" />
<line x1="253.8" y1="3.9" x2="465.6" y2="3.9" stroke="#555" stroke-width="1.8" />
<line x1="258.6" y1="3.9" x2="258.6" y2="243.1" stroke="#262626" stroke-width="1.25" />
<line x1="465" y1="3.9" x2="465" y2="243.1" stroke="#262626" stroke-width="1.25" />
<line x1="258" y1="242.5" x2="465.6" y2="242.5" stroke="#262626" stroke-width="1.25" />
<line x1="256" y1="219.06" x2="258.6" y2="219.06" stroke="#262626" stroke-width="1.1" />
<line x1="253.8" y1="195.12" x2="258.6" y2="195.12" stroke="#262626" stroke-width="1.1" />
<line x1="256" y1="171.18" x2="258.6" y2="171.18" stroke="#262626" stroke-width="1.1" />
<line x1="253.8" y1="147.24" x2="258.6" y2="147.24" stroke="#262626" stroke-width="1.1" />
<line x1="256" y1="123.3" x2="258.6" y2="123.3" stroke="#262626" stroke-width="1.1" />
<line x1="253.8" y1="99.36" x2="258.6" y2="99.36" stroke="#262626" stroke-width="1.1" />
<line x1="256" y1="75.42" x2="258.6" y2="75.42" stroke="#262626" stroke-width="1.1" />
<line x1="253.8" y1="51.48" x2="258.6" y2="51.48" stroke="#262626" stroke-width="1.1" />
<line x1="256" y1="27.54" x2="258.6" y2="27.54" stroke="#262626" stroke-width="1.1" />
<line x1="253.8" y1="242.5" x2="258.6" y2="242.5" stroke="#262626" stroke-width="1.1" />
<line x1="258.6" y1="242.5" x2="258.6" y2="246.7" stroke="#262626" stroke-width="1.1" />
<line x1="304.67" y1="242.5" x2="304.67" y2="244.9" stroke="#262626" stroke-width="1.1" />
<line x1="350.74" y1="242.5" x2="350.74" y2="246.7" stroke="#262626" stroke-width="1.1" />
<line x1="396.81" y1="242.5" x2="396.81" y2="244.9" stroke="#262626" stroke-width="1.1" />
<line x1="442.89" y1="242.5" x2="442.89" y2="246.7" stroke="#262626" stroke-width="1.1" />
<line x1="460.2" y1="3.9" x2="672.1" y2="3.9" stroke="#555" stroke-width="1.8" />
<line x1="465" y1="3.9" x2="465" y2="243.1" stroke="#262626" stroke-width="1.25" />
<line x1="671.5" y1="3.9" x2="671.5" y2="243.1" stroke="#262626" stroke-width="1.25" />
<line x1="464.4" y1="242.5" x2="672.1" y2="242.5" stroke="#262626" stroke-width="1.25" />
<line x1="462.4" y1="219.06" x2="465" y2="219.06" stroke="#262626" stroke-width="1.1" />
<line x1="460.2" y1="195.12" x2="465" y2="195.12" stroke="#262626" stroke-width="1.1" />
<line x1="462.4" y1="171.18" x2="465" y2="171.18" stroke="#262626" stroke-width="1.1" />
<line x1="460.2" y1="147.24" x2="465" y2="147.24" stroke="#262626" stroke-width="1.1" />
<line x1="462.4" y1="123.3" x2="465" y2="123.3" stroke="#262626" stroke-width="1.1" />
<line x1="460.2" y1="99.36" x2="465" y2="99.36" stroke="#262626" stroke-width="1.1" />
<line x1="462.4" y1="75.42" x2="465" y2="75.42" stroke="#262626" stroke-width="1.1" />
<line x1="460.2" y1="51.48" x2="465" y2="51.48" stroke="#262626" stroke-width="1.1" />
<line x1="462.4" y1="27.54" x2="465" y2="27.54" stroke="#262626" stroke-width="1.1" />
<line x1="460.2" y1="242.5" x2="465" y2="242.5" stroke="#262626" stroke-width="1.1" />
<line x1="465" y1="242.5" x2="465" y2="246.7" stroke="#262626" stroke-width="1.1" />
<line x1="499.42" y1="242.5" x2="499.42" y2="244.9" stroke="#262626" stroke-width="1.1" />
<line x1="533.83" y1="242.5" x2="533.83" y2="246.7" stroke="#262626" stroke-width="1.1" />
<line x1="568.25" y1="242.5" x2="568.25" y2="244.9" stroke="#262626" stroke-width="1.1" />
<line x1="602.67" y1="242.5" x2="602.67" y2="246.7" stroke="#262626" stroke-width="1.1" />
<line x1="637.08" y1="242.5" x2="637.08" y2="244.9" stroke="#262626" stroke-width="1.1" />
<line x1="671.5" y1="242.5" x2="671.5" y2="246.7" stroke="#262626" stroke-width="1.1" />
<line x1="47.6" y1="295.5" x2="259.2" y2="295.5" stroke="#262626" stroke-width="1.2" />
<line x1="52.4" y1="295.5" x2="52.4" y2="535" stroke="#262626" stroke-width="1.25" />
<line x1="258.6" y1="295.5" x2="258.6" y2="535" stroke="#262626" stroke-width="1.25" />
<line x1="51.8" y1="534.4" x2="259.2" y2="534.4" stroke="#262626" stroke-width="1.25" />
<line x1="49.8" y1="510.5" x2="52.4" y2="510.5" stroke="#262626" stroke-width="1.1" />
<line x1="47.6" y1="486.6" x2="52.4" y2="486.6" stroke="#262626" stroke-width="1.1" />
<line x1="49.8" y1="462.7" x2="52.4" y2="462.7" stroke="#262626" stroke-width="1.1" />
<line x1="47.6" y1="438.8" x2="52.4" y2="438.8" stroke="#262626" stroke-width="1.1" />
<line x1="49.8" y1="414.9" x2="52.4" y2="414.9" stroke="#262626" stroke-width="1.1" />
<line x1="47.6" y1="391" x2="52.4" y2="391" stroke="#262626" stroke-width="1.1" />
<line x1="49.8" y1="367.1" x2="52.4" y2="367.1" stroke="#262626" stroke-width="1.1" />
<line x1="47.6" y1="343.2" x2="52.4" y2="343.2" stroke="#262626" stroke-width="1.1" />
<line x1="49.8" y1="319.3" x2="52.4" y2="319.3" stroke="#262626" stroke-width="1.1" />
<line x1="47.6" y1="295.5" x2="52.4" y2="295.5" stroke="#262626" stroke-width="1.1" />
<line x1="47.6" y1="534.4" x2="52.4" y2="534.4" stroke="#262626" stroke-width="1.1" />
<line x1="52.4" y1="534.4" x2="52.4" y2="536.8" stroke="#262626" stroke-width="1.1" />
<line x1="89.89" y1="534.4" x2="89.89" y2="538.6" stroke="#262626" stroke-width="1.1" />
<line x1="127.38" y1="534.4" x2="127.38" y2="536.8" stroke="#262626" stroke-width="1.1" />
<line x1="164.87" y1="534.4" x2="164.87" y2="538.6" stroke="#262626" stroke-width="1.1" />
<line x1="202.36" y1="534.4" x2="202.36" y2="536.8" stroke="#262626" stroke-width="1.1" />
<line x1="239.85" y1="534.4" x2="239.85" y2="538.6" stroke="#262626" stroke-width="1.1" />
<line x1="253.8" y1="295.5" x2="465.6" y2="295.5" stroke="#262626" stroke-width="1.2" />
<line x1="258.6" y1="295.5" x2="258.6" y2="535" stroke="#262626" stroke-width="1.25" />
<line x1="465" y1="295.5" x2="465" y2="535" stroke="#262626" stroke-width="1.25" />
<line x1="258" y1="534.4" x2="465.6" y2="534.4" stroke="#262626" stroke-width="1.25" />
<line x1="256" y1="510.5" x2="258.6" y2="510.5" stroke="#262626" stroke-width="1.1" />
<line x1="253.8" y1="486.6" x2="258.6" y2="486.6" stroke="#262626" stroke-width="1.1" />
<line x1="256" y1="462.7" x2="258.6" y2="462.7" stroke="#262626" stroke-width="1.1" />
<line x1="253.8" y1="438.8" x2="258.6" y2="438.8" stroke="#262626" stroke-width="1.1" />
<line x1="256" y1="414.9" x2="258.6" y2="414.9" stroke="#262626" stroke-width="1.1" />
<line x1="253.8" y1="391" x2="258.6" y2="391" stroke="#262626" stroke-width="1.1" />
<line x1="256" y1="367.1" x2="258.6" y2="367.1" stroke="#262626" stroke-width="1.1" />
<line x1="253.8" y1="343.2" x2="258.6" y2="343.2" stroke="#262626" stroke-width="1.1" />
<line x1="256" y1="319.3" x2="258.6" y2="319.3" stroke="#262626" stroke-width="1.1" />
<line x1="253.8" y1="295.5" x2="258.6" y2="295.5" stroke="#262626" stroke-width="1.1" />
<line x1="253.8" y1="534.4" x2="258.6" y2="534.4" stroke="#262626" stroke-width="1.1" />
<line x1="258.6" y1="534.4" x2="258.6" y2="536.8" stroke="#262626" stroke-width="1.1" />
<line x1="296.13" y1="534.4" x2="296.13" y2="538.6" stroke="#262626" stroke-width="1.1" />
<line x1="333.65" y1="534.4" x2="333.65" y2="536.8" stroke="#262626" stroke-width="1.1" />
<line x1="371.18" y1="534.4" x2="371.18" y2="538.6" stroke="#262626" stroke-width="1.1" />
<line x1="408.71" y1="534.4" x2="408.71" y2="536.8" stroke="#262626" stroke-width="1.1" />
<line x1="446.24" y1="534.4" x2="446.24" y2="538.6" stroke="#262626" stroke-width="1.1" />
<line x1="460.2" y1="295.5" x2="672.1" y2="295.5" stroke="#262626" stroke-width="1.2" />
<line x1="465" y1="295.5" x2="465" y2="535" stroke="#262626" stroke-width="1.25" />
<line x1="671.5" y1="295.5" x2="671.5" y2="535" stroke="#262626" stroke-width="1.25" />
<line x1="464.4" y1="534.4" x2="672.1" y2="534.4" stroke="#262626" stroke-width="1.25" />
<line x1="462.4" y1="510.5" x2="465" y2="510.5" stroke="#262626" stroke-width="1.1" />
<line x1="460.2" y1="486.6" x2="465" y2="486.6" stroke="#262626" stroke-width="1.1" />
<line x1="462.4" y1="462.7" x2="465" y2="462.7" stroke="#262626" stroke-width="1.1" />
<line x1="460.2" y1="438.8" x2="465" y2="438.8" stroke="#262626" stroke-width="1.1" />
<line x1="462.4" y1="414.9" x2="465" y2="414.9" stroke="#262626" stroke-width="1.1" />
<line x1="460.2" y1="391" x2="465" y2="391" stroke="#262626" stroke-width="1.1" />
<line x1="462.4" y1="367.1" x2="465" y2="367.1" stroke="#262626" stroke-width="1.1" />
<line x1="460.2" y1="343.2" x2="465" y2="343.2" stroke="#262626" stroke-width="1.1" />
<line x1="462.4" y1="319.3" x2="465" y2="319.3" stroke="#262626" stroke-width="1.1" />
<line x1="460.2" y1="295.5" x2="465" y2="295.5" stroke="#262626" stroke-width="1.1" />
<line x1="460.2" y1="534.4" x2="465" y2="534.4" stroke="#262626" stroke-width="1.1" />
<line x1="465" y1="534.4" x2="465" y2="536.8" stroke="#262626" stroke-width="1.1" />
<line x1="499.42" y1="534.4" x2="499.42" y2="538.6" stroke="#262626" stroke-width="1.1" />
<line x1="533.83" y1="534.4" x2="533.83" y2="536.8" stroke="#262626" stroke-width="1.1" />
<line x1="568.25" y1="534.4" x2="568.25" y2="538.6" stroke="#262626" stroke-width="1.1" />
<line x1="602.67" y1="534.4" x2="602.67" y2="536.8" stroke="#262626" stroke-width="1.1" />
<line x1="637.08" y1="534.4" x2="637.08" y2="538.6" stroke="#262626" stroke-width="1.1" />
<line x1="671.5" y1="534.4" x2="671.5" y2="536.8" stroke="#262626" stroke-width="1.1" />
<line x1="44.5" y1="587.2" x2="672.1" y2="587.2" stroke="#262626" stroke-width="1.3" />
<line x1="52.4" y1="587.2" x2="52.4" y2="826.5" stroke="#262626" stroke-width="1.25" />
<line x1="671.5" y1="587.2" x2="671.5" y2="826.5" stroke="#262626" stroke-width="1.25" />
<line x1="51.8" y1="825.9" x2="672.1" y2="825.9" stroke="#262626" stroke-width="1.25" />
<line x1="48.6" y1="801.92" x2="52.4" y2="801.92" stroke="#262626" stroke-width="1.1" />
<line x1="44.5" y1="778.04" x2="52.4" y2="778.04" stroke="#262626" stroke-width="1.1" />
<line x1="48.6" y1="754.16" x2="52.4" y2="754.16" stroke="#262626" stroke-width="1.1" />
<line x1="44.5" y1="730.28" x2="52.4" y2="730.28" stroke="#262626" stroke-width="1.1" />
<line x1="48.6" y1="706.4" x2="52.4" y2="706.4" stroke="#262626" stroke-width="1.1" />
<line x1="44.5" y1="682.52" x2="52.4" y2="682.52" stroke="#262626" stroke-width="1.1" />
<line x1="48.6" y1="658.64" x2="52.4" y2="658.64" stroke="#262626" stroke-width="1.1" />
<line x1="44.5" y1="634.76" x2="52.4" y2="634.76" stroke="#262626" stroke-width="1.1" />
<line x1="48.6" y1="610.88" x2="52.4" y2="610.88" stroke="#262626" stroke-width="1.1" />
<line x1="44.5" y1="587.2" x2="52.4" y2="587.2" stroke="#262626" stroke-width="1.1" />
<line x1="44.5" y1="825.9" x2="52.4" y2="825.9" stroke="#262626" stroke-width="1.1" />
<line x1="52.4" y1="825.9" x2="52.4" y2="829.6" stroke="#262626" stroke-width="1.1" />
<line x1="129.79" y1="825.9" x2="129.79" y2="833.5" stroke="#262626" stroke-width="1.1" />
<line x1="207.18" y1="825.9" x2="207.18" y2="829.6" stroke="#262626" stroke-width="1.1" />
<line x1="284.56" y1="825.9" x2="284.56" y2="833.5" stroke="#262626" stroke-width="1.1" />
<line x1="361.95" y1="825.9" x2="361.95" y2="829.6" stroke="#262626" stroke-width="1.1" />
<line x1="439.34" y1="825.9" x2="439.34" y2="833.5" stroke="#262626" stroke-width="1.1" />
<line x1="516.73" y1="825.9" x2="516.73" y2="829.6" stroke="#262626" stroke-width="1.1" />
<line x1="594.11" y1="825.9" x2="594.11" y2="833.5" stroke="#262626" stroke-width="1.1" />
<line x1="671.5" y1="825.9" x2="671.5" y2="829.6" stroke="#262626" stroke-width="1.1" />
<text x="43.8" y="246.9" font-size="11.3" text-anchor="end" font-weight="bold" >0</text>
<text x="43.8" y="199.02" font-size="11.3" text-anchor="end" font-weight="bold" >20</text>
<text x="43.8" y="151.14" font-size="11.3" text-anchor="end" font-weight="bold" >40</text>
<text x="43.8" y="103.26" font-size="11.3" text-anchor="end" font-weight="bold" >60</text>
<text x="43.8" y="55.38" font-size="11.3" text-anchor="end" font-weight="bold" >80</text>
<text x="43.8" y="7.5" font-size="11.3" text-anchor="end" font-weight="bold" >100</text>
<text x="52.4" y="261.6" font-size="14.5" text-anchor="middle" font-weight="bold" >0</text>
<text x="111.31" y="261.6" font-size="14.5" text-anchor="middle" font-weight="bold" >1</text>
<text x="170.23" y="261.6" font-size="14.5" text-anchor="middle" font-weight="bold" >2</text>
<text x="229.14" y="261.6" font-size="14.5" text-anchor="middle" font-weight="bold" >3</text>
<text x="258.6" y="261.6" font-size="14.5" text-anchor="middle" font-weight="bold" >0</text>
<text x="350.74" y="261.6" font-size="14.5" text-anchor="middle" font-weight="bold" >2</text>
<text x="442.89" y="261.6" font-size="14.5" text-anchor="middle" font-weight="bold" >4</text>
<text x="465" y="261.6" font-size="14.5" text-anchor="middle" font-weight="bold" >0</text>
<text x="533.83" y="261.6" font-size="14.5" text-anchor="middle" font-weight="bold" >2</text>
<text x="602.67" y="261.6" font-size="14.5" text-anchor="middle" font-weight="bold" >4</text>
<text x="671.5" y="261.6" font-size="14.5" text-anchor="middle" font-weight="bold" >6</text>
<text x="355" y="281.5" font-size="15" text-anchor="middle" font-weight="bold" >TOS / h</text>
<text x="43.8" y="539.4" font-size="15" text-anchor="end" font-weight="bold" >0</text>
<text x="43.8" y="491.6" font-size="15" text-anchor="end" font-weight="bold" >20</text>
<text x="43.8" y="443.8" font-size="15" text-anchor="end" font-weight="bold" >40</text>
<text x="43.8" y="396" font-size="15" text-anchor="end" font-weight="bold" >60</text>
<text x="43.8" y="348.2" font-size="15" text-anchor="end" font-weight="bold" >80</text>
<text x="43.8" y="300.4" font-size="15" text-anchor="end" font-weight="bold" >100</text>
<text x="89.89" y="553.6" font-size="15" text-anchor="middle" font-weight="bold" >180</text>
<text x="296.13" y="553.6" font-size="15" text-anchor="middle" font-weight="bold" >180</text>
<text x="164.87" y="553.6" font-size="15" text-anchor="middle" font-weight="bold" >200</text>
<text x="371.18" y="553.6" font-size="15" text-anchor="middle" font-weight="bold" >200</text>
<text x="239.85" y="553.6" font-size="15" text-anchor="middle" font-weight="bold" >220</text>
<text x="446.24" y="553.6" font-size="15" text-anchor="middle" font-weight="bold" >220</text>
<text x="499.42" y="553.6" font-size="15" text-anchor="middle" font-weight="bold" >200</text>
<text x="568.25" y="553.6" font-size="15" text-anchor="middle" font-weight="bold" >220</text>
<text x="637.08" y="553.6" font-size="15" text-anchor="middle" font-weight="bold" >240</text>
<text x="305" y="572.4" font-size="15.6" font-weight="bold">Temperature / <tspan font-size="10.5" dy="-5.4">o</tspan><tspan dy="5.4">C</tspan></text>
<text x="37.2" y="830.9" font-size="15.2" text-anchor="end" font-weight="bold" >50</text>
<text x="37.2" y="783.14" font-size="15.2" text-anchor="end" font-weight="bold" >60</text>
<text x="37.2" y="735.38" font-size="15.2" text-anchor="end" font-weight="bold" >70</text>
<text x="37.2" y="687.62" font-size="15.2" text-anchor="end" font-weight="bold" >80</text>
<text x="37.2" y="639.86" font-size="15.2" text-anchor="end" font-weight="bold" >90</text>
<text x="37.2" y="592.1" font-size="15.2" text-anchor="end" font-weight="bold" >100</text>
<text x="129.79" y="854.4" font-size="18" text-anchor="middle" font-weight="bold" >20</text>
<text x="284.56" y="854.4" font-size="18" text-anchor="middle" font-weight="bold" >40</text>
<text x="439.34" y="854.4" font-size="18" text-anchor="middle" font-weight="bold" >60</text>
<text x="594.11" y="854.4" font-size="18" text-anchor="middle" font-weight="bold" >80</text>
<text x="362" y="865.5" font-size="20" text-anchor="middle" font-weight="bold" >TOS / h</text>
<text transform="translate(16.8,122.75) rotate(-90)" x="0" y="0" font-size="15" font-weight="bold" text-anchor="middle">CH<tspan font-size="9.9" dy="3.3">3</tspan><tspan dy="-3.3">OH conversion / %</tspan></text>
<text transform="translate(15.6,414.1) rotate(-90)" x="0" y="0" font-size="16.6" font-weight="bold" text-anchor="middle">CH<tspan font-size="10.96" dy="3.65">3</tspan><tspan dy="-3.65">OH conversion / %</tspan></text>
<text transform="translate(12.6,706.4) rotate(-90)" x="0" y="0" font-size="18.0" font-weight="bold" text-anchor="middle">CH<tspan font-size="11.88" dy="3.96">3</tspan><tspan dy="-3.96">OH conversion / %</tspan></text>
</svg></body></html>
